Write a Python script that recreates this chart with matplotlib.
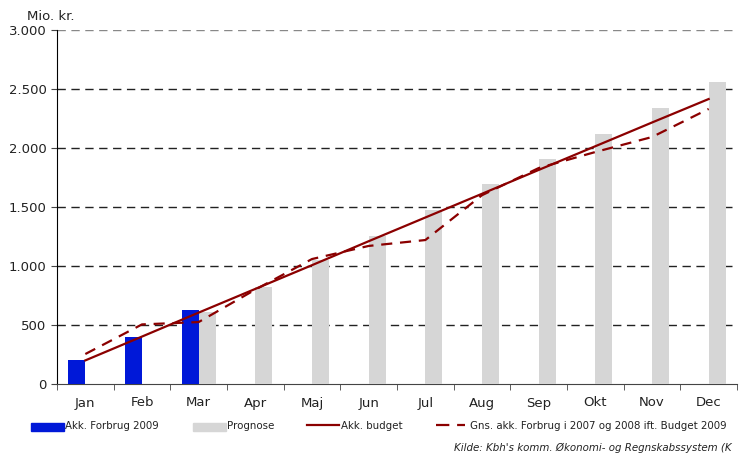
import matplotlib
matplotlib.use("Agg")
import matplotlib.pyplot as plt
import numpy as np
from matplotlib.lines import Line2D
from matplotlib.patches import Rectangle

months = ["Jan", "Feb", "Mar", "Apr", "Maj", "Jun", "Jul", "Aug", "Sep", "Okt", "Nov", "Dec"]
forbrug = [203, 398, 627, 0, 0, 0, 0, 0, 0, 0, 0, 0]
prognose = [0, 0, 610, 822, 1051, 1254, 1475, 1695, 1907, 2119, 2339, 2559]
budget = [200, 402, 605, 806, 1007, 1210, 1411, 1612, 1814, 2015, 2216, 2415]
gns = [254, 505, 525, 800, 1059, 1170, 1220, 1600, 1830, 1966, 2093, 2331]
yticks = [0, 500, 1000, 1500, 2000, 2500, 3000]
ytick_labels = ["0", "500", "1.000", "1.500", "2.000", "2.500", "3.000"]

BLUE = "#0018D8"
GRAY = "#D6D6D6"
RED = "#8B0000"

plt.rcParams['font.family'] = ['DejaVu Sans']
W, H = 742, 457
fig = plt.figure(figsize=(W/100, H/100), dpi=100)
ax = fig.add_axes([57/W, 1-384/H, 680/W, 354/H])

x = np.arange(len(months))
w = 0.3
ax.bar(x - w/2, forbrug, width=w, color=BLUE, zorder=3)
ax.bar(x + w/2, prognose, width=w, color=GRAY, zorder=3)
ax.plot(x, budget, color=RED, lw=1.6, zorder=4)
ax.plot(x, gns, color=RED, lw=1.6, ls=(0, (5, 3.5)), zorder=4)

ax.set_xlim(-0.5, 11.5)
ax.set_ylim(0, 3000)
ax.set_yticks(yticks)
ax.set_yticklabels(ytick_labels, fontsize=9.5, color="#222222")
for yv in yticks[1:]:
    col = "#888888" if yv == 3000 else "#222222"
    ax.axhline(yv, color=col, lw=1.0, ls=(0, (6, 4)), zorder=1)

ax.set_xticks(x)
ax.set_xticklabels(months, fontsize=9.5, color="#222222")
ax.tick_params(axis='x', which='major', length=0, pad=9)
ax.set_xticks(np.arange(-0.5, 12.0, 1.0), minor=True)
ax.tick_params(axis='x', which='minor', length=4, direction='out', color="#444444")
ax.tick_params(axis='y', length=4, color="#444444")
for s in ["top", "right"]:
    ax.spines[s].set_visible(False)
ax.spines["left"].set_color("black")
ax.spines["bottom"].set_color("#444444")

fig.text(27/W, 1-16/H, "Mio. kr.", fontsize=9.5, color="#222222", va="center")

# manual legend
ly = 1 - 426/H
fs = 7.4
fig.add_artist(Rectangle((31/W, 1-431/H), 33/W, 8/H, color=BLUE, transform=fig.transFigure))
fig.text(65/W, ly, "Akk. Forbrug 2009", fontsize=fs, color="#222222", va="center")
fig.add_artist(Rectangle((193/W, 1-431/H), 33/W, 8/H, color=GRAY, transform=fig.transFigure))
fig.text(227/W, ly, "Prognose", fontsize=fs, color="#222222", va="center")
fig.add_artist(Line2D([307/W, 339/W], [1-425/H, 1-425/H], color=RED, lw=1.6, transform=fig.transFigure))
fig.text(341/W, ly, "Akk. budget", fontsize=fs, color="#222222", va="center")
fig.add_artist(Line2D([436/W, 465/W], [1-425/H, 1-425/H], color=RED, lw=1.6, ls=(0, (6, 3.5)),
                      transform=fig.transFigure))
fig.text(470/W, ly, "Gns. akk. Forbrug i 2007 og 2008 ift. Budget 2009", fontsize=fs,
         color="#222222", va="center")
fig.text(454/W, 1-448/H, "Kilde: Kbh's komm. Økonomi- og Regnskabssystem (K", fontsize=fs,
         style="italic", color="#222222", ha="left", va="center")

fig.savefig("out.png", dpi=100)
